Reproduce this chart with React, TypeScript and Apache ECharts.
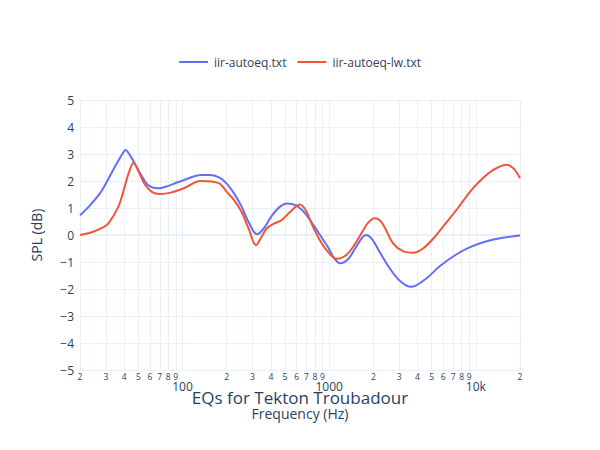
import React, { useEffect, useRef } from "react";
import * as echarts from "echarts";

const seriesNames = ["iir-autoeq.txt", "iir-autoeq-lw.txt"];

const blueFreq = [20, 23.4, 27.4, 31, 35.2, 39.9, 40.8, 43.9, 51.3, 58.2, 68, 76, 96, 135, 154, 180, 204, 224, 253, 284, 322, 359, 407, 462, 515, 594, 673, 764, 866, 982, 1079, 1186, 1344, 1524, 1783, 1958, 2220, 2600, 3040, 3614, 4500, 5694, 7210, 9120, 11540, 14600, 20000];
const blueSpl = [0.73, 1.1, 1.55, 2.05, 2.6, 3.1, 3.15, 2.95, 2.3, 1.85, 1.73, 1.78, 1.98, 2.22, 2.22, 2.12, 1.85, 1.55, 1.05, 0.45, 0.03, 0.25, 0.72, 1.05, 1.17, 1.1, 0.85, 0.45, 0.0, -0.45, -0.85, -1.05, -0.9, -0.45, 0.0, -0.15, -0.65, -1.25, -1.7, -1.92, -1.65, -1.15, -0.75, -0.45, -0.25, -0.12, -0.02];

const redFreq = [20, 24.1, 28.7, 31.2, 36.5, 39.2, 43, 46.4, 49.7, 55, 61.7, 70.2, 82, 104, 132, 159, 180, 200, 224, 253, 284, 317, 343, 375, 420, 474, 541, 632, 695, 776, 866, 962, 1125, 1282, 1452, 1675, 1840, 2052, 2290, 2736, 3185, 3746, 4366, 5130, 6260, 7550, 9120, 10660, 13090, 16300, 18200, 20000];
const redSpl = [0.0, 0.1, 0.28, 0.42, 1.04, 1.55, 2.3, 2.68, 2.4, 1.9, 1.6, 1.52, 1.56, 1.75, 2.0, 1.98, 1.9, 1.6, 1.3, 0.85, 0.2, -0.38, -0.1, 0.24, 0.42, 0.55, 0.85, 1.13, 0.9, 0.3, -0.2, -0.57, -0.88, -0.78, -0.45, 0.1, 0.45, 0.62, 0.45, -0.32, -0.6, -0.66, -0.5, -0.13, 0.45, 1.0, 1.6, 2.0, 2.4, 2.6, 2.45, 2.1];

const xTickFreqs = [20, 30, 40, 50, 60, 70, 80, 90, 100, 200, 300, 400, 500, 600, 700, 800, 900, 1000, 2000, 3000, 4000, 5000, 6000, 7000, 8000, 9000, 10000, 20000];
const majorLabels: Record<number, string> = { 100: "100", 1000: "1000", 10000: "10k" };

const titleText = "EQs for Tekton Troubadour";
const xName = "Frequency (Hz)";
const yName = "SPL (dB)";

const FONT = "'Open Sans', verdana, arial, sans-serif";
const TXT = "#2a3f5f";
const GRID = "#EBF0F8";

export default function App() {
  const ref = useRef<HTMLDivElement>(null);
  useEffect(() => {
    if (!ref.current) return;
    const chart = echarts.init(ref.current, undefined, { renderer: "svg" });
    const tickVals = xTickFreqs.map((f) => Math.log10(f));
    const xMin = Math.log10(20);
    const xMax = Math.log10(20000);
    chart.setOption({
      animation: false,
      backgroundColor: "#fff",
      textStyle: { fontFamily: FONT },
      title: {
        text: titleText,
        left: "center",
        top: 384,
        textStyle: { fontSize: 17, color: TXT, fontWeight: "normal", fontFamily: FONT },
      },
      legend: {
        data: seriesNames,
        top: 51,
        left: "center",
        icon: "rect",
        itemWidth: 29,
        itemHeight: 2,
        itemGap: 11,
        textStyle: { fontSize: 12, color: TXT, fontFamily: FONT, padding: [0, 0, 0, 1] },
      },
      grid: { left: 80, right: 80, top: 100, bottom: 80 },
      xAxis: [
        {
          type: "log",
          min: 20,
          max: 20000,
          axisLabel: { show: false },
          axisTick: { show: false },
          splitLine: { show: false },
          axisLine: { show: true, onZero: true, lineStyle: { color: GRID, width: 2 } },
        },
        {
          type: "value",
          min: xMin,
          max: xMax,
          position: "bottom",
          name: xName,
          nameLocation: "middle",
          nameGap: 36,
          nameTextStyle: { fontSize: 14, color: TXT, fontFamily: FONT },
          axisLine: { show: false },
          axisTick: { show: false, customValues: tickVals },
          splitLine: { show: true, lineStyle: { color: GRID, width: 1 } },
          axisLabel: {
            customValues: tickVals,
            margin: 2,
            hideOverlap: false,
            showMinLabel: true,
            showMaxLabel: true,
            formatter: (v: number) => {
              const f = Math.round(Math.pow(10, v));
              if (majorLabels[f]) return "{major|" + majorLabels[f] + "}";
              return "{minor|" + String(f)[0] + "}";
            },
            rich: {
              minor: { fontSize: 8.5, lineHeight: 9, color: TXT, fontFamily: FONT },
              major: { fontSize: 12, lineHeight: 29, color: TXT, fontFamily: FONT },
            },
          },
        },
      ],
      yAxis: {
        type: "value",
        min: -5,
        max: 5,
        interval: 1,
        name: yName,
        nameLocation: "middle",
        nameGap: 37,
        nameTextStyle: { fontSize: 14, color: TXT, fontFamily: FONT },
        axisLine: { show: false },
        axisTick: { show: false },
        splitLine: { show: true, lineStyle: { color: GRID, width: 1 } },
        axisLabel: {
          fontSize: 12,
          color: TXT,
          margin: 6,
          fontFamily: FONT,
          formatter: (v: number) => (v < 0 ? "\u2212" + Math.abs(v) : String(v)),
        },
      },
      series: [
        {
          name: seriesNames[0],
          type: "line",
          xAxisIndex: 0,
          data: blueFreq.map((f, i) => [f, blueSpl[i]]),
          smooth: 0.35,
          symbol: "none",
          lineStyle: { color: "#636efa", width: 2 },
          itemStyle: { color: "#636efa" },
        },
        {
          name: seriesNames[1],
          type: "line",
          xAxisIndex: 0,
          data: redFreq.map((f, i) => [f, redSpl[i]]),
          smooth: 0.35,
          symbol: "none",
          lineStyle: { color: "#EF553B", width: 2 },
          itemStyle: { color: "#EF553B" },
        },
      ],
    });
    return () => chart.dispose();
  }, []);
  return <div ref={ref} style={{ position: "absolute", left: 0, top: 0, width: 600, height: 450 }} />;
}
